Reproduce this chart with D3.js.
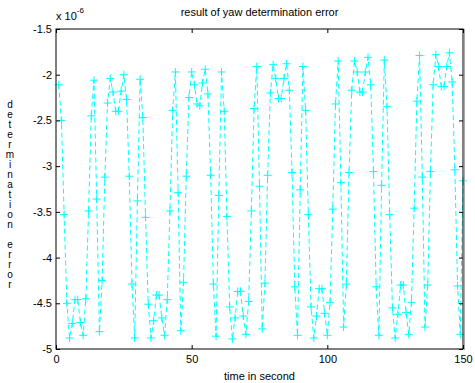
<!DOCTYPE html>
<html>
<head>
<meta charset="utf-8">
<script src="https://cdn.jsdelivr.net/npm/d3@7"></script>
<style>
  html, body { margin: 0; padding: 0; background: #fff; }
  svg { display: block; font-family: "Liberation Sans", Arial, sans-serif; }
</style>
</head>
<body>
<svg id="chart" width="475" height="383"></svg>
<script>
// time in seconds
const seconds = [1,2,3,4,5,6,7,8,9,10,11,12,13,14,15,16,17,18,19,20,21,22,23,24,25,26,27,28,29,30,
  31,32,33,34,35,36,37,38,39,40,41,42,43,44,45,46,47,48,49,50,51,52,53,54,55,56,57,58,59,60,
  61,62,63,64,65,66,67,68,69,70,71,72,73,74,75,76,77,78,79,80,81,82,83,84,85,86,87,88,89,90,
  91,92,93,94,95,96,97,98,99,100,101,102,103,104,105,106,107,108,109,110,111,112,113,114,115,116,117,118,119,120,
  121,122,123,124,125,126,127,128,129,130,131,132,133,134,135,136,137,138,139,140,141,142,143,144,145,146,147,148,149,150];
// yaw determination error, in units of 1e-6
const yawError = [
  -2.11,-2.50,-3.53,-4.50,-4.88,-4.72,-4.46,-4.46,-4.71,-4.85,
  -4.45,-3.49,-2.45,-2.06,-3.36,-4.81,-4.25,-3.12,-2.31,-2.04,
  -2.19,-2.40,-2.40,-2.18,-2.00,-2.27,-3.11,-4.29,-4.88,-3.38,
  -2.05,-2.47,-3.56,-4.51,-4.88,-4.69,-4.41,-4.41,-4.66,-4.85,
  -4.46,-3.49,-2.39,-1.97,-3.29,-4.80,-4.27,-3.11,-2.25,-1.97,
  -2.11,-2.32,-2.34,-2.09,-1.94,-2.21,-3.10,-4.29,-4.86,-3.32,
  -1.97,-2.40,-3.55,-4.54,-4.89,-4.66,-4.37,-4.37,-4.64,-4.84,
  -4.48,-3.49,-2.37,-1.91,-3.22,-4.78,-4.28,-3.10,-2.20,-1.89,
  -2.04,-2.26,-2.26,-2.04,-1.88,-2.17,-3.07,-4.32,-4.85,-3.26,
  -1.91,-2.39,-3.53,-4.54,-4.88,-4.64,-4.34,-4.34,-4.61,-4.85,
  -4.49,-3.47,-2.32,-1.85,-3.18,-4.76,-4.29,-3.07,-2.17,-1.85,
  -1.97,-2.19,-2.19,-1.97,-1.81,-2.11,-3.06,-4.32,-4.85,-3.21,
  -1.84,-2.35,-3.53,-4.55,-4.88,-4.62,-4.30,-4.30,-4.60,-4.84,
  -4.49,-3.46,-2.29,-1.79,-3.12,-4.76,-4.30,-3.06,-2.11,-1.78,
  -1.91,-2.13,-2.13,-1.91,-1.76,-2.08,-3.04,-4.31,-4.84,-3.16
];
const xTicks = [0, 50, 100, 150];
const yTicks = [-5, -4.5, -4, -3.5, -3, -2.5, -2, -1.5];
const titleText = "result of yaw determination error";
const xLabelText = "time in second";
const yLabelText = "determination error";

const svg = d3.select("#chart");
const L = 56, R = 463, T = 29, B = 349;
const x = d3.scaleLinear().domain([0, 150]).range([L, R]);
const y = d3.scaleLinear().domain([-5, -1.5]).range([B, T]);
const data = seconds.map((t, i) => ({t, v: yawError[i]}));

svg.append("rect").attr("width", 475).attr("height", 383).attr("fill", "#fff");

// line
const line = d3.line().x(d => x(d.t)).y(d => y(d.v));
svg.append("path").datum(data)
  .attr("d", line)
  .attr("fill", "none")
  .attr("stroke", "#00ffff")
  .attr("stroke-width", 1)
  .attr("stroke-dasharray", "5,3");

// plus markers
const s = 4;
svg.append("g").selectAll("path").data(data).join("path")
  .attr("d", d => `M${x(d.t) - s},${y(d.v)}H${x(d.t) + s}M${x(d.t)},${y(d.v) - s}V${y(d.v) + s}`)
  .attr("stroke", "#00ffff")
  .attr("stroke-width", 1)
  .attr("fill", "none");

// axes
const fmt = d => String(d);
const styleAxis = g => {
  g.selectAll("text").attr("font-size", 11).attr("fill", "#000")
    .attr("font-family", "'Liberation Sans', Arial, sans-serif");
  g.selectAll("line").attr("stroke", "#000");
  g.select(".domain").remove();
};
svg.append("g").attr("transform", `translate(${L},0)`)
  .call(d3.axisLeft(y).tickValues(yTicks).tickFormat(fmt).tickSizeInner(-4).tickSizeOuter(0).tickPadding(4))
  .call(styleAxis);
svg.append("g").attr("transform", `translate(${R},0)`)
  .call(d3.axisRight(y).tickValues(yTicks).tickFormat("").tickSizeInner(-4).tickSizeOuter(0))
  .call(styleAxis);
svg.append("g").attr("transform", `translate(0,${B})`)
  .call(d3.axisBottom(x).tickValues(xTicks).tickFormat(fmt).tickSizeInner(-4).tickSizeOuter(0).tickPadding(6))
  .call(styleAxis);
svg.append("g").attr("transform", `translate(0,${T})`)
  .call(d3.axisTop(x).tickValues(xTicks).tickFormat("").tickSizeInner(-4).tickSizeOuter(0))
  .call(styleAxis);

// frame
svg.append("rect").attr("x", L).attr("y", T).attr("width", R - L).attr("height", B - T)
  .attr("fill", "none").attr("stroke", "#000").attr("stroke-width", 1);
svg.append("line").attr("x1", R + 1.5).attr("x2", R + 1.5).attr("y1", T).attr("y2", B + 1)
  .attr("stroke", "#aaa").attr("stroke-width", 1);

// title
svg.append("text").attr("x", (L + R) / 2).attr("y", 16).attr("text-anchor", "middle")
  .attr("font-size", 11).text(titleText);

// exponent
const ex = svg.append("text").attr("x", L).attr("y", 20).attr("font-size", 11);
ex.append("tspan").text("x 10");
ex.append("tspan").attr("font-size", 8).attr("dy", -7).text("-6");

// x label
svg.append("text").attr("x", (L + R) / 2).attr("y", 380).attr("text-anchor", "middle")
  .attr("font-size", 11).text(xLabelText);

// y label: glyphs stacked vertically
const yl = svg.append("text").attr("font-size", 10).attr("text-anchor", "middle");
yLabelText.split("").forEach((ch, i) => {
  yl.append("tspan").attr("x", 10).attr("y", 108 + i * 10).text(ch);
});
</script>
</body>
</html>
